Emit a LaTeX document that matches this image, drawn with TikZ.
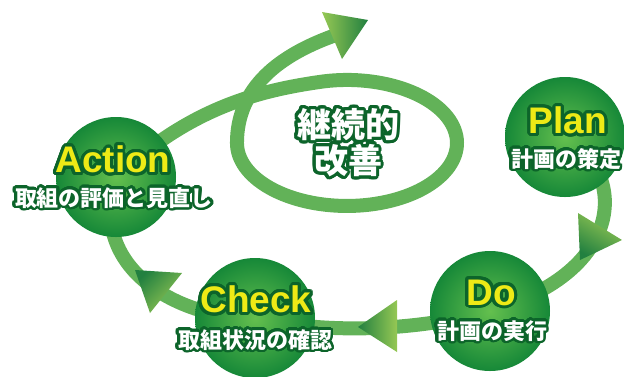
\documentclass[tikz,border=0pt]{standalone}
\usepackage{fontspec}
\setmainfont{Liberation Sans}
\newfontfamily\jpfont{Noto Sans CJK JP}
\usepackage[copies]{contour}
\contournumber{32}
\usetikzlibrary{backgrounds}

\definecolor{bandgreen}{RGB}{98,178,88}
\definecolor{balllite}{RGB}{100,192,78}
\definecolor{balldark}{RGB}{22,136,56}
\definecolor{arrlite}{RGB}{150,200,84}
\definecolor{arrdark}{RGB}{34,128,64}
\definecolor{glowgreen}{RGB}{12,100,42}
\definecolor{lemon}{RGB}{238,234,22}

\newcommand{\glowtxt}[2]{\contourlength{#1}\contour{glowgreen}{#2}}

\begin{document}
\begin{tikzpicture}[x=1pt, y=1pt,
	band/.style={draw=bandgreen, line width=14pt},
	ball/.style={circle, minimum size=120pt, inner sep=0pt, inner color=balllite, outer color=balldark},
	title/.style={text=lemon, font=\fontsize{37}{40}\selectfont\bfseries},
	jplabel/.style={text=white, font=\jpfont\bfseries\fontsize{22}{24}\selectfont},
	kaizen/.style={text=white, align=center, font=\jpfont\bfseries\fontsize{34}{36}\selectfont},
	arrowhd/.style={top color=arrdark, bottom color=arrlite}]
	\useasboundingbox (0,0) rectangle (624,-376);
	% the four steps
	\node[ball] (action) at (116,-177) {};
	\node[ball] (plan) at (565,-137) {};
	\node[ball] (do) at (490,-311) {};
	\node[ball] (check) at (255,-318) {};
	\coordinate (spiraltip) at (333,-36);
	\begin{scope}[on background layer]
		\draw[band] (plan.center) .. controls (625,-170) and (630,-270) .. (do.center);
		\draw[band] (do.center) .. controls (420,-330) and (330,-335) .. (check.center);
		\draw[band] (check.center) .. controls (190,-320) and (85,-275) .. (action.center);
		\draw[band] (action.center) .. controls (190,-108) and (258,-91) .. (318.5,-82.1)
			arc[start angle=105, end angle=-180, x radius=110, y radius=63]
			to[out=90, in=200] (spiraltip);
		% arrow heads
		\shade[arrowhd, shading angle=-90] (322,-12) -- (368,-20) -- (342,-59) -- cycle;
		\shade[arrowhd, shading angle=150] (578,-213) -- (622,-240) -- (580,-260) -- cycle;
		\shade[arrowhd, shading angle=90] (397,-300) -- (358,-327) -- (397,-352) -- cycle;
		\shade[arrowhd, shading angle=45] (135,-270) -- (182,-273) -- (150,-313) -- cycle;
	\end{scope}
	% labels
	\node[title] (actiontitle) at (113,-161) {\glowtxt{3pt}{Action}};
	\node[jplabel] (actionsub) at (114,-199) {\glowtxt{2.5pt}{取組の評価と見直し}};
	\node[title] (plantitle) at (568,-122) {\glowtxt{3pt}{Plan}};
	\node[jplabel] (plansub) at (566,-160) {\glowtxt{2.5pt}{計画の策定}};
	\node[title] (dotitle) at (491,-294) {\glowtxt{3pt}{Do}};
	\node[jplabel] (dosub) at (492,-332) {\glowtxt{2.5pt}{計画の実行}};
	\node[title] (checktitle) at (256,-301) {\glowtxt{3pt}{Check}};
	\node[jplabel] (checksub) at (255,-341) {\glowtxt{2.5pt}{取組状況の確認}};
	\node[kaizen] (kaizentext) at (348,-144) {\glowtxt{3pt}{継続的}\\\glowtxt{3pt}{改善}};
\end{tikzpicture}
\end{document}
